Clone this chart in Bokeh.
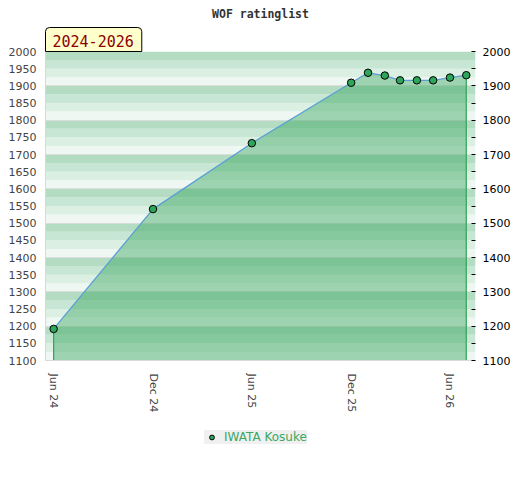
import datetime as dt
from bokeh.plotting import figure
from bokeh.layouts import column
from bokeh.models import (Range1d, LinearAxis, FixedTicker, DatetimeTickFormatter,
                          BoxAnnotation, Legend, LegendItem, Title)
from bokeh.embed import file_html
from bokeh.resources import INLINE

# ---------------- data ----------------
player = "IWATA Kosuke"
period = "2024-2026"
title_text = "WOF ratinglist"
dates = ["2024-06-01", "2024-12-01", "2025-06-01", "2025-12-01", "2026-01-01",
         "2026-02-01", "2026-03-01", "2026-04-01", "2026-05-01", "2026-06-01",
         "2026-07-01"]
ratings = [1192, 1541, 1733, 1909, 1938, 1930, 1916, 1916, 1916, 1924, 1931]
x_tick_dates = ["2024-06-01", "2024-12-01", "2025-06-01", "2025-12-01", "2026-06-01"]
x_start, x_end = "2024-05-17", "2026-07-18"
y_min, y_max = 1100, 2000
left_ticks = list(range(1100, 2001, 50))
right_ticks = list(range(1100, 2001, 100))
right_minor = list(range(1150, 2000, 100))

# ---------------- style ----------------
band_colors = ["#eef7f1", "#dcefe3", "#c7e6d3", "#b3dcc3"]  # bottom -> top within 100
area_color = "#2fa357"
line_color = "#5b9fd6"
marker_color = "#2ea65a"
legend_text_color = "#3aa862"

def to_dt(s):
    return dt.datetime.strptime(s, "%Y-%m-%d")

def to_ms(s):
    return to_dt(s).replace(tzinfo=dt.timezone.utc).timestamp() * 1000

xs = [to_dt(d) for d in dates]
x_ticks_ms = [to_ms(d) for d in x_tick_dates]

p = figure(x_axis_type="datetime", frame_width=430, frame_height=309,
           min_border_left=45, min_border_right=0, min_border_top=0,
           min_border_bottom=58,
           x_range=Range1d(to_dt(x_start), to_dt(x_end)),
           y_range=Range1d(y_min, y_max),
           output_backend="svg", toolbar_location=None)
p.outline_line_color = None
p.background_fill_color = "white"
p.border_fill_color = "white"

# period box (closest to the frame) and title
p.add_layout(Title(text=period, align="left", text_font="DejaVu Sans Mono",
                   text_font_size="15px", text_font_style="normal", text_color="#8b0000",
                   background_fill_color="#ffffcc", border_line_color="black",
                   border_line_width=1, padding=dict(left=7, right=8, top=7, bottom=5),
                   border_radius=(4, 4, 0, 0), standoff=0), "above")
p.title = Title(text=title_text, align="center", text_font="DejaVu Sans Mono",
                text_font_size="11.5px", text_font_style="bold", text_color="#333333",
                standoff=9)

# background bands
for b in range(y_min, y_max, 25):
    c = band_colors[((b - y_min) // 25) % 4]
    p.add_layout(BoxAnnotation(bottom=b, top=b + 25, fill_color=c, fill_alpha=1.0,
                               line_color=None, level="image"))

p.xgrid.grid_line_color = None
p.ygrid.ticker = FixedTicker(ticks=right_ticks)
p.ygrid.grid_line_color = "#d8d8d8"
p.ygrid.grid_line_alpha = 0.8

# area
p.varea(x=xs, y1=[y_min] * len(xs), y2=ratings, fill_color=area_color, fill_alpha=0.42)
p.segment(x0=[xs[0], xs[-1]], y0=[y_min, y_min], x1=[xs[0], xs[-1]],
          y1=[ratings[0], ratings[-1]], line_color=area_color, line_width=1.2)
p.line(xs, ratings, line_color=line_color, line_width=1.3)
p.scatter(xs, ratings, size=7.5, fill_color=marker_color, line_color="black",
          line_width=1)

# axes
xa = p.xaxis[0]
xa.ticker = FixedTicker(ticks=x_ticks_ms)
xa.formatter = DatetimeTickFormatter(days="%b %y", months="%b %y", years="%b %y")
xa.major_label_orientation = "vertical"
xa.major_tick_line_color = None
xa.minor_tick_line_color = None
xa.major_tick_out = 0
xa.minor_tick_out = 0
xa.axis_label_standoff = 0
xa.axis_line_color = "#d9d9d9"
xa.major_label_text_font = "DejaVu Sans"
xa.major_label_text_font_size = "11px"
xa.major_label_text_color = "#444444"
xa.major_label_standoff = 13

ya = p.yaxis[0]
ya.ticker = FixedTicker(ticks=left_ticks)
ya.major_tick_line_color = None
ya.minor_tick_line_color = None
ya.major_tick_out = 0
ya.minor_tick_out = 0
ya.axis_label_standoff = 0
ya.axis_line_color = "#d9d9d9"
ya.major_label_text_font = "DejaVu Sans"
ya.major_label_text_font_size = "11px"
ya.major_label_text_color = "#444444"
ya.major_label_standoff = 9

ra = LinearAxis(ticker=FixedTicker(ticks=right_ticks, minor_ticks=right_minor))
ra.axis_line_color = None
ra.major_tick_in = 4
ra.major_tick_out = 0
ra.minor_tick_in = 4
ra.minor_tick_out = 0
ra.axis_label_standoff = 0
ra.major_tick_line_color = "black"
ra.minor_tick_line_color = "black"
ra.major_label_text_font = "DejaVu Sans"
ra.major_label_text_font_size = "11px"
ra.major_label_text_color = "black"
ra.major_label_standoff = 7
p.add_layout(ra, "right")

# legend in a small strip below the chart (its frame is aligned with the chart's)
lg = figure(width=520, height=36, min_border=0, output_backend="svg",
            toolbar_location=None, x_range=Range1d(0, 1), y_range=Range1d(0, 1))
lg.axis.visible = False
lg.grid.visible = False
lg.outline_line_color = None
lg.background_fill_color = "white"
lg.border_fill_color = "white"
# legend swatch renderer (its point lies outside this strip's range)
sc = lg.scatter(x=xs[:1], y=ratings[:1], size=7.5, fill_color=marker_color,
                line_color="black", line_width=1)
leg = Legend(items=[LegendItem(label=player, renderers=[sc])], location=(159, 10),
             orientation="horizontal", background_fill_color="#f0f0f0",
             background_fill_alpha=1.0, border_line_color=None,
             label_text_color=legend_text_color, label_text_font="DejaVu Sans",
             label_text_font_size="12px", padding=4, glyph_width=15, glyph_height=12,
             label_height=13, label_standoff=5, margin=0)
lg.add_layout(leg, "center")

layout = column(p, lg, spacing=0)
open("out.html", "w").write(file_html(layout, INLINE))
